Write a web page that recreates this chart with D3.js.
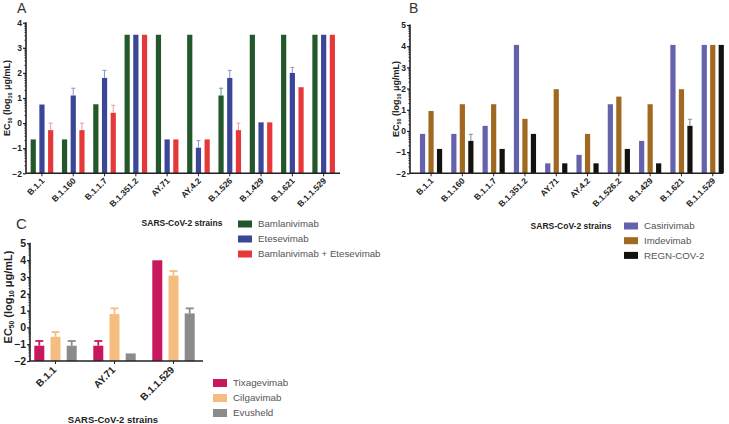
<!DOCTYPE html>
<html><head><meta charset="utf-8">
<script src="https://cdn.jsdelivr.net/npm/d3@7"></script>
<style>
body{margin:0;background:#fff;}
svg{display:block;}
text{font-family:"Liberation Sans",Arial,sans-serif;}
</style></head>
<body><svg id="c" width="729" height="424"></svg>
<script>
// Panel A
const strainsA = ["B.1.1","B.1.160","B.1.1.7","B.1.351.2","AY.71","AY.4.2","B.1.526","B.1.429","B.1.621","B.1.1.529"];
const seriesA = ["Bamlanivimab","Etesevimab","Bamlanivimab + Etesevimab"];
const bamA = [-0.65,-0.65,0.75,3.52,3.52,3.52,1.1,3.52,3.52,3.52];
const eteA = [0.74,1.1,1.8,3.52,-0.65,-0.98,1.8,0.03,2.0,3.52];
const comboA = [-0.28,-0.28,0.41,3.52,-0.65,-0.65,-0.28,0.03,1.43,3.52];
const bamAErr = [null,null,null,null,null,null,1.39,null,null,null];
const eteAErr = [null,1.39,2.1,null,null,-0.7,2.1,null,2.22,null];
const comboAErr = [0.0,0.0,0.71,null,null,null,0.0,null,null,null];
const yTicksA = [-2,-1,0,1,2,3,4];
// Panel B
const strainsB = ["B.1.1","B.1.160","B.1.1.7","B.1.351.2","AY.71","AY.4.2","B.1.526.2","B.1.429","B.1.621","B.1.1.529"];
const seriesB = ["Casirivimab","Imdevimab","REGN-COV-2"];
const casB = [-0.14,-0.14,0.24,4.06,-1.53,-1.13,1.26,-0.47,4.06,4.06];
const imdB = [0.94,1.26,1.26,0.57,1.97,-0.14,1.62,1.26,1.97,4.06];
const regnB = [-0.85,-0.47,-0.85,-0.14,-1.53,-1.53,-0.85,-1.53,0.24,4.06];
const casBErr = [null,null,null,null,null,null,null,null,null,null];
const imdBErr = [null,null,null,null,null,null,null,null,null,null];
const regnBErr = [null,-0.16,null,null,null,null,null,null,0.55,null];
const yTicksB = [-2,-1,0,1,2,3,4,5];
// Panel C
const strainsC = ["B.1.1","AY.71","B.1.1.529"];
const seriesC = ["Tixagevimab","Cilgavimab","Evusheld"];
const tixC = [-1.09,-1.09,3.99];
const cilC = [-0.56,0.79,3.08];
const evuC = [-1.09,-1.55,0.83];
const tixCErr = [-0.81,-0.81,null];
const cilCErr = [-0.28,1.13,3.35];
const evuCErr = [-0.81,null,1.13];
const yTicksC = [-2,-1,0,1,2,3,4,5];

const xTitle = "SARS-CoV-2 strains";
const svg = d3.select("#c");

function ytitle(g, x, y, size){
  const t = g.append("text").attr("transform",`translate(${x},${y}) rotate(-90)`)
    .attr("text-anchor","middle").attr("font-weight","bold").attr("font-size",size).attr("fill","#222");
  t.append("tspan").text("EC");
  t.append("tspan").text("50").attr("font-size",size*0.6).attr("dy",size*0.2);
  t.append("tspan").text(" (log").attr("dy",-size*0.2);
  t.append("tspan").text("10").attr("font-size",size*0.6).attr("dy",size*0.2);
  t.append("tspan").text(" μg/mL)").attr("dy",-size*0.2);
}

function panel(cfg){
  const g = svg.append("g");
  const y = d3.scaleLinear().domain(cfg.ydom).range([cfg.yb, cfg.yt]);
  const x = d3.scaleBand().domain(cfg.cats).range([cfg.x0, cfg.x1]).paddingInner(0).paddingOuter(0);
  const xs = d3.scalePoint().domain(cfg.series).range([-cfg.sub, cfg.sub]);
  cfg.series.forEach((s,si)=>{
    const vals = cfg.values[si], errs = cfg.errs[si];
    g.selectAll(null).data(cfg.cats).enter().append("rect")
      .attr("x", c=> x(c)+x.bandwidth()/2 + xs(s) - cfg.bw/2)
      .attr("width", cfg.bw)
      .attr("y", (c,i)=> y(vals[i]))
      .attr("height",(c,i)=> y(cfg.ydom[0]) - y(vals[i]))
      .attr("fill", cfg.colors[si]);
    cfg.cats.forEach((c,i)=>{
      if(errs[i]==null) return;
      const cx = x(c)+x.bandwidth()/2 + xs(s);
      g.append("line").attr("x1",cx).attr("x2",cx).attr("y1",y(vals[i])).attr("y2",y(errs[i]))
        .attr("stroke",cfg.ecolors[si]).attr("stroke-width",cfg.ew);
      g.append("line").attr("x1",cx-cfg.cap).attr("x2",cx+cfg.cap).attr("y1",y(errs[i])).attr("y2",y(errs[i]))
        .attr("stroke",cfg.ecolors[si]).attr("stroke-width",cfg.ew);
    });
  });
  // y axis
  const ya = g.append("g").attr("transform",`translate(${cfg.ax},0)`)
    .call(d3.axisLeft(y).tickValues(cfg.yticks).tickSize(3).tickPadding(1).tickFormat(d3.format("d")));
  ya.select(".domain").remove();
  ya.selectAll("text").attr("font-size",cfg.tfs).attr("font-weight","bold").attr("fill","#222")
    .attr("font-family","Liberation Sans, Arial, sans-serif");
  ya.selectAll("line").attr("stroke","#222").attr("stroke-width",1.2);
  const minor = [];
  for(let k=cfg.ydom[0]; k<cfg.ydom[1]; k++){ for(let m=2;m<=9;m++) minor.push(k+Math.log10(m)); }
  g.selectAll(null).data(minor).enter().append("line")
    .attr("x1",cfg.ax-1.6).attr("x2",cfg.ax).attr("y1",d=>y(d)).attr("y2",d=>y(d))
    .attr("stroke","#222").attr("stroke-width",0.8);
  g.append("line").attr("x1",cfg.ax).attr("x2",cfg.ax).attr("y1",y(cfg.ydom[1])-0.5).attr("y2",cfg.yb)
    .attr("stroke","#222").attr("stroke-width",1.6);
  // x axis
  g.append("line").attr("x1",cfg.ax).attr("x2",cfg.xend).attr("y1",cfg.yb).attr("y2",cfg.yb)
    .attr("stroke","#222").attr("stroke-width",1.6);
  cfg.cats.forEach(c=>{
    const cx = x(c)+x.bandwidth()/2;
    g.append("line").attr("x1",cx).attr("x2",cx).attr("y1",cfg.yb).attr("y2",cfg.yb+3)
      .attr("stroke","#222").attr("stroke-width",1);
    const tx = cx+cfg.lx, ty = cfg.yb+cfg.ly;
    g.append("text")
      .attr("transform",`translate(${tx},${ty}) rotate(-45)`)
      .attr("text-anchor","end").attr("dy","0.35em").attr("font-size",cfg.xfs).attr("font-weight","bold")
      .attr("fill","#222").text(c);
  });
  ytitle(g, cfg.ytx, cfg.yty, cfg.ytfs);
  g.append("text").attr("x",cfg.lbl[0]).attr("y",cfg.lbl[1]).attr("font-size",cfg.lblfs).attr("fill","#333").text(cfg.letter);
  // x title
  g.append("text").attr("x",cfg.xt[0]).attr("y",cfg.xt[1]).attr("text-anchor","middle")
    .attr("font-size",cfg.xtfs).attr("font-weight","bold").attr("fill","#222").text(xTitle);
  // legend
  cfg.series.forEach((s,si)=>{
    g.append("rect").attr("x",cfg.leg[0]).attr("y",cfg.leg[1]+si*cfg.leg[2]-cfg.legh/2).attr("width",14).attr("height",cfg.legh)
      .attr("fill",cfg.colors[si]);
    g.append("text").attr("x",cfg.leg[0]+20).attr("y",cfg.leg[1]+si*cfg.leg[2]).attr("dy","0.35em")
      .attr("font-size",cfg.legfs).attr("fill","#555").text(s);
  });
}

panel({cats:strainsA, series:seriesA, values:[bamA,eteA,comboA], errs:[bamAErr,eteAErr,comboAErr],
  colors:["#22582b","#3b4699","#e5383b"], ecolors:["#6f9a74","#8a92cc","#f09a9c"],
  ydom:[-2,4], yticks:yTicksA, yt:22.7, yb:173.3, x0:26.3, x1:339.3, ax:26, xend:340, sub:8.7, bw:5.2, cap:2, ew:1,
  tfs:8.5, xfs:8.5, lx:1, ly:6, ytx:10, yty:98, ytfs:9, letter:"A", lbl:[17,13], lblfs:14,
  xt:[182,226], xtfs:8.5, leg:[238,224,15], legh:7, legfs:9.7});

panel({cats:strainsB, series:seriesB, values:[casB,imdB,regnB], errs:[casBErr,imdBErr,regnBErr],
  colors:["#6462ad","#a0691f","#13120e"], ecolors:["#9a99cc","#c8a070","#888"],
  ydom:[-2,5], yticks:yTicksB, yt:25, yb:173.3, x0:415.4, x1:728.4, ax:410, xend:723, sub:8.5, bw:5.2, cap:2, ew:1,
  tfs:8.5, xfs:8.5, lx:1, ly:6, ytx:399, yty:99, ytfs:9, letter:"B", lbl:[409,13], lblfs:14,
  xt:[571,229], xtfs:8.5, leg:[624,226,14.7], legh:7, legfs:9.7});

panel({cats:strainsC, series:seriesC, values:[tixC,cilC,evuC], errs:[tixCErr,cilCErr,evuCErr],
  colors:["#c7185d","#f5bd80","#8b8b8b"], ecolors:["#c7185d","#f5bd80","#8b8b8b"],
  ydom:[-2,5], yticks:yTicksC, yt:243.3, yb:361, x0:26, x1:203, ax:30, xend:203, sub:16.2, bw:10, cap:4, ew:1.8,
  tfs:10.5, xfs:10, lx:-1, ly:7, ytx:12, yty:297, ytfs:11, letter:"C", lbl:[16,229], lblfs:15,
  xt:[113,423], xtfs:9.5, leg:[213,383,15], legh:8, legfs:9.8});
</script></body></html>
